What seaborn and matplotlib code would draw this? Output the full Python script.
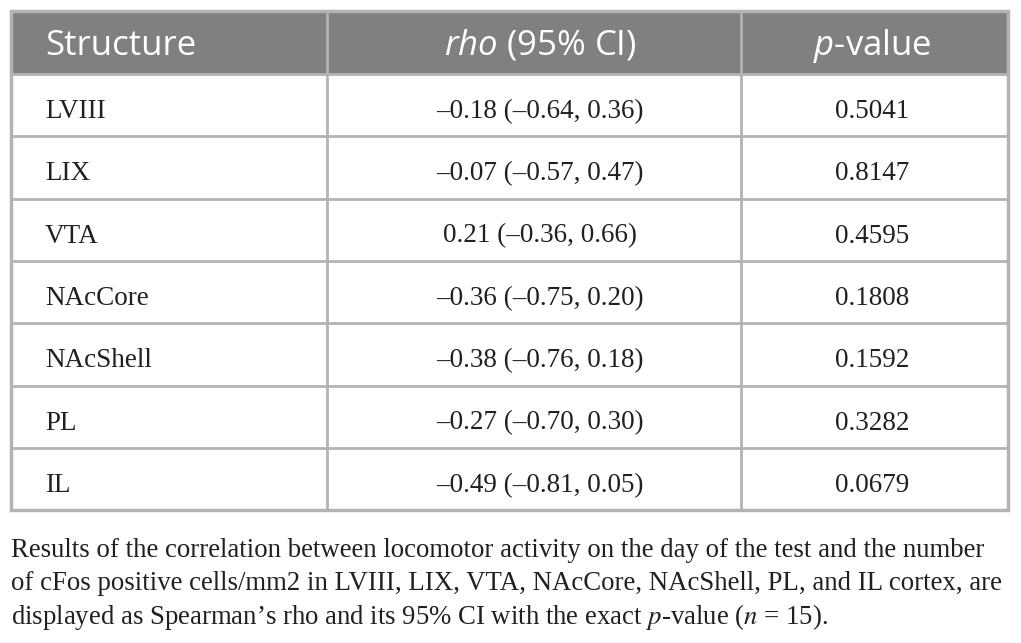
import matplotlib
matplotlib.use("Agg")
import matplotlib.pyplot as plt
import seaborn as sns
from matplotlib.patches import Rectangle

sns.set_style("white")

# Table data
columns = ["Structure", "$\\it{rho}$ (95% CI)", "$\\it{p}$-value"]
structures = ["LVIII", "LIX", "VTA", "NAcCore", "NAcShell", "PL", "IL"]
rho_ci = ["\u20130.18 (\u20130.64, 0.36)", "\u20130.07 (\u20130.57, 0.47)", "0.21 (\u20130.36, 0.66)",
          "\u20130.36 (\u20130.75, 0.20)", "\u20130.38 (\u20130.76, 0.18)", "\u20130.27 (\u20130.70, 0.30)",
          "\u20130.49 (\u20130.81, 0.05)"]
p_values = ["0.5041", "0.8147", "0.4595", "0.1808", "0.1592", "0.3282", "0.0679"]
caption = ["Results of the correlation between locomotor activity on the day of the test and the number",
           "of cFos positive cells/mm2 in LVIII, LIX, VTA, NAcCore, NAcShell, PL, and IL cortex, are",
           "displayed as Spearman\u2019s rho and its 95% CI with the exact $p$-value ($n$ = 15)."]

plt.rcParams["mathtext.fontset"] = "custom"
plt.rcParams["mathtext.it"] = "Open Sans:italic"
plt.rcParams["mathtext.rm"] = "Open Sans"

W, H = 1021, 643
fig = plt.figure(figsize=(W / 100, H / 100), dpi=100)
ax = fig.add_axes([0, 0, 1, 1])
ax.set_xlim(0, W)
ax.set_ylim(H, 0)
ax.axis("off")

left, right, top = 11, 1008, 11
col_x = [11, 327, 741, 1008]
head_h, row_h = 63, 62.3
grid = "#b3b3b3"
ink = "#231f20"

# header
ax.add_patch(Rectangle((left, top), right - left, head_h, color="#808080", zorder=1))
hb = top + 44
ax.text(45, hb, columns[0], color="white", fontsize=25, family="Open Sans", va="baseline", ha="left")
ax.text(540, hb, columns[1], color="white", fontsize=25, family="Open Sans", va="baseline", ha="center")
ax.text(872, hb, columns[2], color="white", fontsize=25, family="Open Sans", va="baseline", ha="center")

# body
y0 = top + head_h
for i, (s, r, p) in enumerate(zip(structures, rho_ci, p_values)):
    by = y0 + row_h * i + 44
    ax.text(45, by, s, color=ink, fontsize=19.5, family="Liberation Serif", va="baseline", ha="left")
    ax.text(540, by, r, color=ink, fontsize=19.5, family="Liberation Serif", va="baseline", ha="center")
    ax.text(872, by, p, color=ink, fontsize=19.5, family="Liberation Serif", va="baseline", ha="center")

bottom = y0 + row_h * len(structures)
for i in range(1, len(structures)):
    ax.plot([left, right], [y0 + row_h * i] * 2, color=grid, lw=2, zorder=2)
ax.plot([left, right], [y0, y0], color=grid, lw=2, zorder=2)
for x in col_x[1:-1]:
    ax.plot([x, x], [top, bottom], color=grid, lw=2, zorder=2)
ax.add_patch(Rectangle((left, top), right - left, bottom - top, fill=False, ec=grid, lw=2.5, zorder=3))

# caption
for j, line in enumerate(caption):
    ax.text(left, 557 + 33.5 * j, line, color=ink, fontsize=19.3, family="Liberation Serif",
            va="baseline", ha="left", math_fontfamily="stix")

fig.savefig("out.png", dpi=100)
